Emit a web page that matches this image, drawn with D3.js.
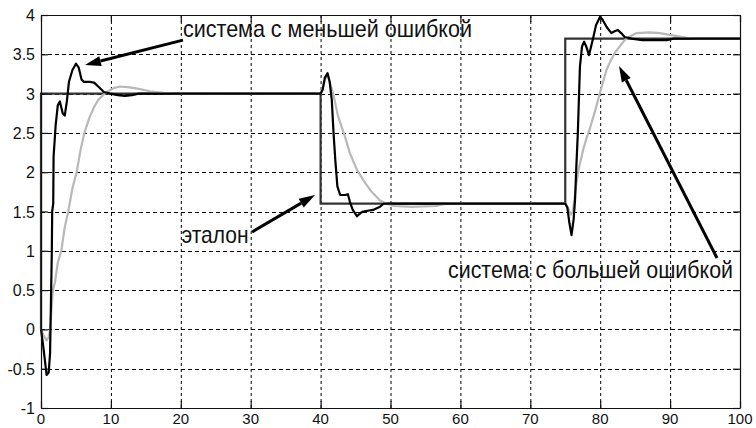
<!DOCTYPE html>
<html>
<head>
<meta charset="utf-8">
<script src="https://cdn.jsdelivr.net/npm/d3@7"></script>
<style>
  html, body { margin: 0; padding: 0; background: #fff; }
  svg { display: block; }
</style>
</head>
<body>
<svg id="chart" width="756" height="428"></svg>
<script>
// Reference signal (эталон): piecewise-constant set-point
const refT = [0, 0, 40, 40, 75, 75, 100];
const refV = [0, 3, 3, 1.6, 1.6, 3.7, 3.7];

// Response of the system with the smaller error
const smallErrT = [0, 0.3, 0.5, 0.8, 1.1, 1.3, 1.45, 1.55, 1.6, 1.75, 1.8, 1.95, 2.1, 2.4, 2.7, 3.1, 3.4, 3.7, 4.0, 4.5, 5.0, 5.4, 5.8, 6.1, 7.0, 7.6, 8.3, 9.0, 9.9, 11, 12, 13, 14, 40,
  40.3, 40.6, 41.0, 41.3, 41.6, 41.85, 42.1, 42.4, 42.8, 43.5, 43.9, 44.2, 44.6, 45.2, 45.7, 46.1, 47.5, 48.5, 49.0, 75,
  75.3, 75.6, 75.9, 76.2, 76.4, 76.6, 76.8, 77.1, 77.4, 77.7, 78.0, 78.4, 78.7, 79.0, 79.4, 80.0, 80.4, 80.9, 81.6, 82.0, 82.5, 83.0, 83.5, 84.5, 86, 89.5, 90.5, 100];
const smallErrV = [0, -0.2, -0.35, -0.58, -0.55, -0.3, 0.5, 1.0, 1.5, 1.6, 2.2, 2.4, 2.6, 2.85, 2.9, 2.75, 2.72, 2.9, 3.15, 3.3, 3.38, 3.33, 3.18, 3.15, 3.15, 3.14, 3.08, 3.02, 3.0, 2.98, 2.97, 2.98, 3.0, 3.0,
  3.05, 3.2, 3.26, 3.15, 2.92, 2.5, 2.16, 1.82, 1.71, 1.71, 1.72, 1.62, 1.52, 1.44, 1.48, 1.5, 1.52, 1.56, 1.6, 1.6,
  1.55, 1.35, 1.2, 1.4, 1.65, 2.1, 2.5, 3.34, 3.6, 3.66, 3.6, 3.49, 3.6, 3.71, 3.87, 3.98, 3.93, 3.85, 3.77, 3.79, 3.81, 3.77, 3.72, 3.7, 3.68, 3.68, 3.7, 3.7];

// Response of the system with the larger error
const largeErrT = [0, 0.4, 0.8, 1.1, 1.3, 1.7, 2.0, 2.4, 2.9, 3.4, 3.9, 4.5, 5.1, 5.7, 6.2, 7.0, 7.6, 8.2, 9.0, 9.6, 10.4, 11.3, 12.7, 14, 15.6, 17.5, 20, 40,
  40.4, 40.8, 41.1, 41.8, 42.5, 43.5, 44.2, 45.2, 46.4, 47.3, 48.5, 49.4, 50.5, 53, 56.5, 58, 75,
  75.4, 75.8, 76.1, 76.6, 76.9, 77.6, 78.1, 78.5, 79.3, 80.0, 80.9, 81.5, 82.1, 82.8, 83.5, 84.3, 85.2, 87.1, 88.5, 90.4, 92.4, 94, 100];
const largeErrV = [0, -0.08, -0.14, -0.1, 0, 0.5, 0.6, 0.85, 1.0, 1.3, 1.5, 1.8, 2.0, 2.3, 2.5, 2.71, 2.83, 2.92, 2.99, 3.03, 3.07, 3.09, 3.08, 3.06, 3.03, 3.01, 3.0, 3.0,
  3.1, 3.22, 3.2, 3.0, 2.71, 2.45, 2.24, 2.03, 1.86, 1.75, 1.64, 1.6, 1.57, 1.56, 1.57, 1.6, 1.6,
  1.55, 1.46, 1.5, 1.86, 2.03, 2.3, 2.45, 2.55, 2.79, 3.02, 3.3, 3.42, 3.52, 3.6, 3.68, 3.73, 3.77, 3.78, 3.77, 3.74, 3.71, 3.7, 3.7];

// Axis ticks
const xTicks = [0, 10, 20, 30, 40, 50, 60, 70, 80, 90, 100];
const yTicks = [-1, -0.5, 0, 0.5, 1, 1.5, 2, 2.5, 3, 3.5, 4];

// Callout texts
const labels = ["система с меньшей ошибкой", "эталон", "система с большей ошибкой"];

const svg = d3.select("#chart");
const x = d3.scaleLinear().domain([0, 100]).range([41, 740]);
const y = d3.scaleLinear().domain([-1, 4]).range([408, 15]);
const tickFont = "'Liberation Sans', Arial, sans-serif";

// dashed grid
const grid = svg.append("g");
grid.selectAll("line.vx").data(xTicks.slice(1, -1)).join("line")
  .attr("x1", d => x(d) + 0.5).attr("x2", d => x(d) + 0.5)
  .attr("y1", y(4)).attr("y2", y(-1))
  .attr("stroke", "#000").attr("stroke-width", 1).attr("stroke-dasharray", "3,3");
grid.selectAll("line.hy").data(yTicks.slice(1, -1)).join("line")
  .attr("y1", d => Math.round(y(d)) + 0.5).attr("y2", d => Math.round(y(d)) + 0.5)
  .attr("x1", x(0)).attr("x2", x(100))
  .attr("stroke", "#000").attr("stroke-width", 1).attr("stroke-dasharray", "4,3");

// series
const line = d3.line().x(d => x(d[0])).y(d => y(d[1]));
const zip = (a, b) => a.map((t, i) => [t, b[i]]);

svg.append("path").datum(zip(refT, refV)).attr("d", line)
  .attr("fill", "none").attr("stroke", "#333").attr("stroke-width", 2.2);
svg.append("path").datum(zip(largeErrT, largeErrV)).attr("d", line)
  .attr("fill", "none").attr("stroke", "#b8b8b8").attr("stroke-width", 2.2)
  .attr("stroke-linejoin", "round");
svg.append("path").datum(zip(smallErrT, smallErrV)).attr("d", line)
  .attr("fill", "none").attr("stroke", "#000").attr("stroke-width", 2.2)
  .attr("stroke-linejoin", "round");

// axes box with inward ticks
const xAxisB = d3.axisBottom(x).tickValues(xTicks).tickSizeInner(-7).tickSizeOuter(0).tickFormat("");
const xAxisT = d3.axisTop(x).tickValues(xTicks).tickSizeInner(-7).tickSizeOuter(0).tickFormat("");
const yAxisL = d3.axisLeft(y).tickValues(yTicks).tickSizeInner(-7).tickSizeOuter(0).tickFormat("");
const yAxisR = d3.axisRight(y).tickValues(yTicks).tickSizeInner(-7).tickSizeOuter(0).tickFormat("");
[[xAxisB, `translate(0,${y(-1)})`], [xAxisT, `translate(0,${y(4)})`],
 [yAxisL, `translate(${x(0)},0)`], [yAxisR, `translate(${x(100)},0)`]].forEach(([ax, tr]) => {
  const g = svg.append("g").attr("transform", tr).call(ax);
  g.selectAll("path, line").attr("stroke", "#111").attr("stroke-width", 1.2);
});

// tick labels
svg.append("g").selectAll("text").data(xTicks).join("text")
  .attr("x", d => x(d)).attr("y", 424)
  .attr("text-anchor", "middle")
  .attr("font-family", tickFont).attr("font-size", 15).attr("fill", "#111")
  .text(d => d);
svg.append("g").selectAll("text").data(yTicks).join("text")
  .attr("x", 35).attr("y", d => y(d) + 6)
  .attr("text-anchor", "end")
  .attr("font-family", tickFont).attr("font-size", 16).attr("fill", "#111")
  .text(d => d);

// callout arrows: [tail, tip] in data units
const arrows = [
  [[20.31, 3.68], [6.29, 3.364]],
  [[30.19, 1.239], [39.2, 1.71]],
  [[96.71, 0.908], [82.69, 3.351]]
];
arrows.forEach(([a, b]) => {
  const x1 = x(a[0]), y1 = y(a[1]), x2 = x(b[0]), y2 = y(b[1]);
  const ang = Math.atan2(y2 - y1, x2 - x1);
  const hl = 16, hw = 5;
  const bx = x2 - hl * Math.cos(ang), by = y2 - hl * Math.sin(ang);
  svg.append("line").attr("x1", x1).attr("y1", y1).attr("x2", bx).attr("y2", by)
    .attr("stroke", "#000").attr("stroke-width", 3);
  const px = -Math.sin(ang) * hw, py = Math.cos(ang) * hw;
  svg.append("polygon")
    .attr("points", [[x2, y2], [bx + px, by + py], [bx - px, by - py]].map(p => p.join(",")).join(" "))
    .attr("fill", "#000");
});

// callout texts: [label, anchor in data units, width]
const textSpots = [[20.31, 3.726, 289], [20.1, 1.095, 67], [58.23, 0.65, 285]];
labels.forEach((t, i) => {
  const [tx, ty, w] = textSpots[i];
  svg.append("text")
    .attr("transform", `translate(${x(tx)},${y(ty)}) scale(1,1.18)`)
    .attr("font-family", tickFont).attr("font-size", 20).attr("fill", "#111")
    .attr("textLength", w).attr("lengthAdjust", "spacingAndGlyphs")
    .text(t);
});
</script>
</body>
</html>
